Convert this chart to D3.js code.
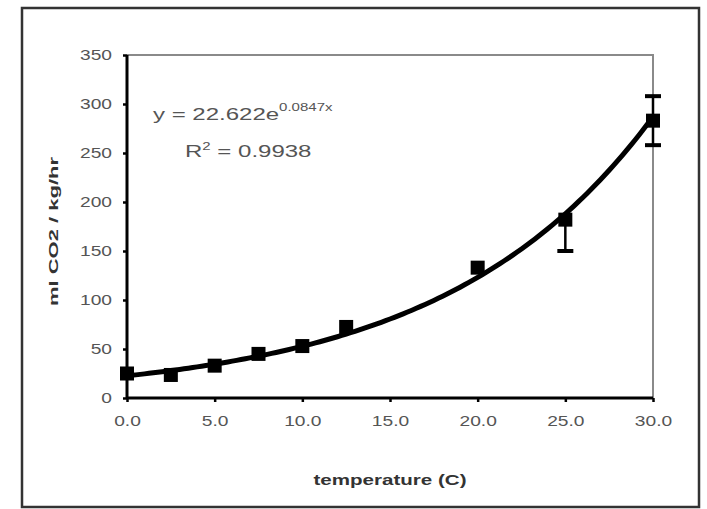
<!DOCTYPE html>
<html>
<head>
<meta charset="utf-8">
<script src="https://cdn.jsdelivr.net/npm/d3@7"></script>
<style>
  body { margin: 0; background: #fff; }
  svg { display: block; font-family: "Liberation Sans", Arial, sans-serif; }
</style>
</head>
<body>
<svg id="chart"></svg>
<script>
// respiration rate vs temperature
const temps     = [0, 2.5, 5, 7.5, 10, 12.5, 20, 25, 30];
const rates     = [25, 23.5, 33, 45, 53, 72.5, 133, 182, 283];
const errPlus   = [0, 0, 0, 0, 0, 0, 0, 0, 25];
const errMinus  = [0, 0, 0, 0, 0, 0, 0, 32, 25];
const xTicks = [0, 5, 10, 15, 20, 25, 30];
const yTicks = [0, 50, 100, 150, 200, 250, 300, 350];
// exponential trendline as printed on the chart
const fitA = 22.622;
const fitB = 0.0847;
const r2Text = '0.9938';

const W = 707, H = 509;
const mg = { top: 55, right: 54, bottom: 111, left: 127 };
const iw = W - mg.left - mg.right;
const ih = H - mg.top - mg.bottom;
const STRETCH = 1.37; // the picture's text is wide

const svg = d3.select('#chart').attr('width', W).attr('height', H);

// outer frame
svg.append('rect').attr('x', 22).attr('y', 8).attr('width', 677).attr('height', 499)
  .attr('fill', '#fff').attr('stroke', '#333').attr('stroke-width', 2.5);

const g = svg.append('g').attr('transform', `translate(${mg.left},${mg.top})`);

const x = d3.scaleLinear().domain([0, 30]).range([0, iw]);
const y = d3.scaleLinear().domain([0, 350]).range([ih, 0]);

function widen(sel, k) {
  sel.each(function () {
    const w = this.getComputedTextLength();
    d3.select(this).attr('textLength', w * k).attr('lengthAdjust', 'spacingAndGlyphs');
  });
}

// plot frame top/right (grey)
g.append('path').attr('d', `M0,${y(350)}H${iw}V${ih}`)
  .attr('fill', 'none').attr('stroke', '#8a8a8a').attr('stroke-width', 2);

// axes
const xAxis = g.append('g').attr('transform', `translate(0,${ih})`)
  .call(d3.axisBottom(x).tickValues(xTicks).tickSize(4).tickPadding(14).tickFormat(d3.format('.1f')));
const yAxis = g.append('g')
  .call(d3.axisLeft(y).tickValues(yTicks).tickSize(4).tickPadding(11));

[xAxis, yAxis].forEach(a => {
  a.select('.domain').attr('stroke', '#000').attr('stroke-width', 3);
  a.selectAll('.tick line').attr('stroke', '#000').attr('stroke-width', 2.5);
  a.selectAll('.tick text').attr('fill', '#555').style('font-size', '14px');
});
yAxis.select('.domain').attr('d', `M0,${ih}V0`);
xAxis.select('.domain').attr('d', `M0,0H${iw}`);
widen(xAxis.selectAll('.tick text'), STRETCH);
widen(yAxis.selectAll('.tick text'), STRETCH);

// trendline
const fitPts = d3.range(0, 30.001, 0.25).map(t => [t, fitA * Math.exp(fitB * t)]);
g.append('path').datum(fitPts)
  .attr('d', d3.line().x(d => x(d[0])).y(d => y(d[1])))
  .attr('fill', 'none').attr('stroke', '#000').attr('stroke-width', 5);

// error bars
const pts = temps.map((t, i) => ({ t, v: rates[i], lo: rates[i] - errMinus[i], hi: rates[i] + errPlus[i] }));
const eb = g.selectAll('.eb').data(pts.filter(d => d.hi > d.lo)).join('g');
eb.append('line')
  .attr('x1', d => x(d.t)).attr('x2', d => x(d.t))
  .attr('y1', d => y(d.lo)).attr('y2', d => y(d.hi))
  .attr('stroke', '#000').attr('stroke-width', 2.5);
eb.selectAll('.cap').data(d => [d.lo, d.hi].filter(v => v !== d.v).map(v => ({ t: d.t, v })))
  .join('line')
  .attr('x1', d => x(d.t) - 8).attr('x2', d => x(d.t) + 8)
  .attr('y1', d => y(d.v)).attr('y2', d => y(d.v))
  .attr('stroke', '#000').attr('stroke-width', 4);

// markers
g.selectAll('.pt').data(pts).join('rect')
  .attr('x', d => x(d.t) - 7).attr('y', d => y(d.v) - 7)
  .attr('width', 14).attr('height', 14).attr('fill', '#000');

// equation
const eq = g.append('text').attr('x', 153 - mg.left).attr('y', 120 - mg.top)
  .attr('fill', '#555').style('font-size', '16px');
eq.append('tspan').text('y = 22.622e');
eq.append('tspan').attr('dy', -9).style('font-size', '10px').text(`${fitB}x`);
widen(eq.selectAll('tspan'), 1.5);

const r2 = g.append('text').attr('x', 185 - mg.left).attr('y', 157 - mg.top)
  .attr('fill', '#555').style('font-size', '16px');
r2.append('tspan').text('R');
r2.append('tspan').attr('dy', -7).style('font-size', '10px').text('2');
r2.append('tspan').attr('dy', 7).text(` = ${r2Text}`);
widen(r2.selectAll('tspan'), 1.5);

// axis titles
const xt = svg.append('text').attr('x', mg.left + iw / 2).attr('y', 485)
  .attr('text-anchor', 'middle').attr('fill', '#333')
  .style('font-size', '15px').style('font-weight', 'bold').text('temperature (C)');
widen(xt, STRETCH);

const yt = svg.append('text')
  .attr('transform', `translate(58,${mg.top + ih / 2 + 5}) rotate(-90)`)
  .attr('text-anchor', 'middle').attr('fill', '#333')
  .style('font-size', '13px').style('font-weight', 'bold').text('ml CO2 / kg/hr');
yt.attr('textLength', 149).attr('lengthAdjust', 'spacingAndGlyphs');
</script>
</body>
</html>
